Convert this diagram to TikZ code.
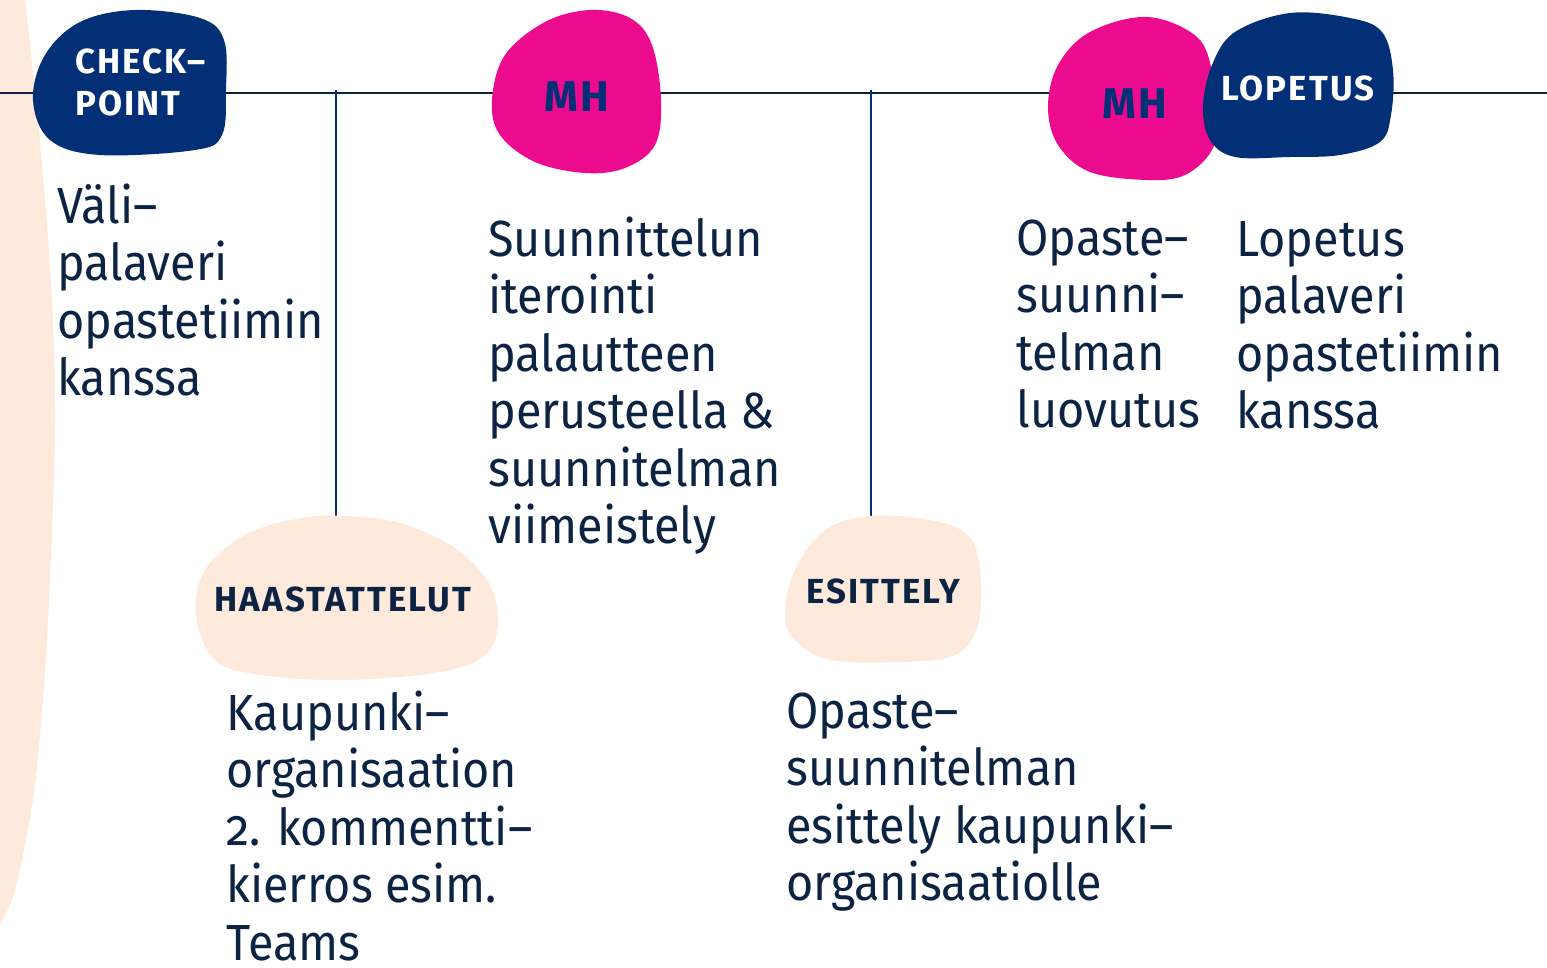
\documentclass[tikz,border=0pt]{standalone}
\usepackage{fontspec}
\setmainfont{Fira Sans}[Numbers=OldStyle, FakeStretch=0.92]
\newfontfamily\tagfont{Fira Sans}[LetterSpace=6]
\usetikzlibrary{calc}

\definecolor{navy}{RGB}{2,47,117}
\definecolor{mhpink}{RGB}{236,11,143}
\definecolor{peach}{RGB}{253,234,220}
\definecolor{ink}{RGB}{12,35,68}

\begin{document}
\begin{tikzpicture}[x=0.5pt, y=-0.5pt,
	body/.style={anchor=base west, align=left, inner sep=0pt, text=ink,
		font=\fontsize{25.4}{28.75}\selectfont},
	tag/.style={anchor=base, inner sep=0pt, font=\tagfont\bfseries\fontsize{17.4}{21}\selectfont},
	bigtag/.style={tag, font=\tagfont\bfseries\fontsize{21.5}{24}\selectfont},
	timeline/.style={draw=ink, line width=1.3pt},
	drop/.style={draw=navy, line width=1pt}]
	\useasboundingbox (0,0) rectangle (1547,968);
	
	% peach strip on the left
	\fill[peach] plot[smooth] coordinates {(25,0) (40,140) (52,300) (55,430) (50,580) (43,700) (33,800) (15,890) (0,925)} -- (0,0) -- cycle;
	
	% timeline and drops
	\coordinate (tl-start) at (0,93);
	\coordinate (tl-end) at (1547,93);
	\coordinate (drop1) at (336,90);
	\coordinate (drop2) at (871,90);
	\coordinate (haas-top) at (336,518);
	\coordinate (esit-top) at (871,518);
	\draw[timeline] (tl-start) -- (tl-end);
	\draw[drop] (drop1) -- (haas-top);
	\draw[drop] (drop2) -- (esit-top);
	
	% blobs
	\fill[navy] plot[smooth cycle, tension=0.6] coordinates {(33,100) (45,55) (80,22) (135,10) (200,18) (224,40) (226,90) (222,135) (195,150) (100,155) (50,140)};
	\fill[mhpink] plot[smooth cycle, tension=0.6] coordinates {(492,100) (505,55) (545,22) (590,10) (630,18) (652,45) (661,100) (655,145) (625,168) (585,173) (535,162) (500,135)};
	\fill[mhpink] plot[smooth cycle, tension=0.6] coordinates {(1048,107) (1058,65) (1090,32) (1147,17) (1197,37) (1213,75) (1218,115) (1212,150) (1185,175) (1147,180) (1090,172) (1058,145)};
	\fill[navy] plot[smooth cycle, tension=0.6] coordinates {(1203,107) (1212,65) (1235,32) (1290,13) (1350,18) (1382,32) (1393,70) (1391,115) (1380,142) (1340,155) (1290,157) (1235,157) (1210,140)};
	\fill[peach] plot[smooth cycle, tension=0.6] coordinates {(196,615) (205,570) (245,535) (300,518) (345,516) (400,523) (455,548) (490,585) (498,625) (485,655) (440,672) (345,680) (260,675) (215,660)};
	\fill[peach] plot[smooth cycle, tension=0.6] coordinates {(785,615) (795,570) (825,530) (870,516) (930,520) (968,535) (980,570) (978,625) (955,655) (900,662) (830,660) (795,640)};
	
	% blob labels (base = last line)
	\node[tag, anchor=base west, align=left, text=white, font=\tagfont\bfseries\fontsize{17.4}{21}\selectfont] (checkpoint) at (75,116) {CHECK–\\POINT};
	\node[bigtag, text=navy] (mh1) at (577,112) {MH};
	\node[bigtag, text=navy] (mh2) at (1135,119) {MH};
	\node[tag, text=white] (lopetus) at (1298,101) {LOPETUS};
	\node[tag, text=ink] (haastattelut) at (343,611) {HAASTATTELUT};
	\node[tag, text=ink] (esittely) at (883,603) {ESITTELY};
	
	% texts
	\node[body] (vali) at (57,395.5) {Väli–\\palaveri\\opastetiimin\\kanssa};
	\node[body] (iterointi) at (488,543.5) {Suunnittelun\\iterointi\\palautteen\\perusteella \&\\suunnitelman\\viimeistely};
	\node[body] (luovutus) at (1016,427.5) {Opaste–\\suunni–\\telman\\luovutus};
	\node[body] (lopetuspv) at (1236,428.5) {Lopetus\\palaveri\\opastetiimin\\kanssa};
	\node[body, text depth=0pt] (kierros) at (226,960) {Kaupunki–\\organisaation\\2. kommentti–\\kierros esim.\\Teams};
	\node[body] (esittelyteksti) at (786,900.5) {Opaste–\\suunnitelman\\esittely kaupunki–\\organisaatiolle};
\end{tikzpicture}
\end{document}
